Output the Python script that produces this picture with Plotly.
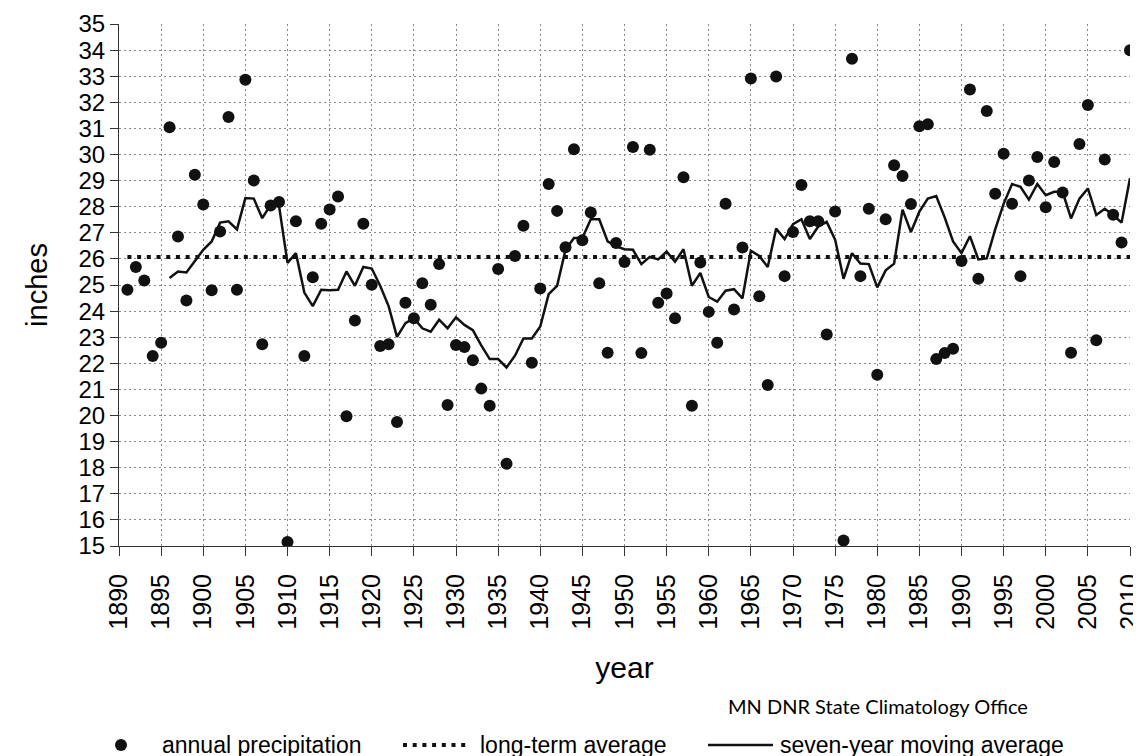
import plotly.graph_objects as go

years = list(range(1891, 2011))
annual_precip = [
    24.82, 25.69, 25.17, 22.28, 22.79, 31.04, 26.86, 24.41, 29.22, 28.08,
    24.80, 27.05, 31.44, 24.82, 32.86, 29.00, 22.73, 28.05, 28.18, 15.15,
    27.44, 22.28, 25.30, 27.35, 27.89, 28.39, 19.97, 23.64, 27.35, 25.01,
    22.66, 22.73, 19.75, 24.32, 23.73, 25.07, 24.24, 25.80, 20.40, 22.70,
    22.62, 22.12, 21.03, 20.37, 25.61, 18.15, 26.11, 27.27, 22.02, 24.87,
    28.87, 27.84, 26.45, 30.20, 26.71, 27.78, 25.07, 22.40, 26.61, 25.88,
    30.29, 22.39, 30.18, 24.32, 24.67, 23.73, 29.13, 20.37, 25.86, 23.97,
    22.79, 28.11, 24.06, 26.44, 32.91, 24.57, 21.17, 32.99, 25.34, 27.03,
    28.83, 27.44, 27.44, 23.10, 27.82, 15.21, 33.67, 25.34, 27.92, 21.56,
    27.52, 29.59, 29.18, 28.10, 31.08, 31.16, 22.16, 22.39, 22.56, 25.92,
    32.49, 25.24, 31.67, 28.50, 30.03, 28.11, 25.34, 29.00, 29.90, 27.98,
    29.71, 28.54, 22.40, 30.40, 31.90, 22.88, 29.81, 27.69, 26.63, 33.99,
]

ma_years = list(range(1896, 2011))
moving_avg = [
    25.27, 25.52, 25.48, 25.93, 26.35, 26.67, 27.39, 27.44, 27.13, 28.33,
    28.31, 27.56, 28.07, 28.02, 25.85, 26.22, 24.71, 24.19, 24.82, 24.80,
    24.82, 25.52, 24.97, 25.69, 25.63, 24.97, 24.19, 23.01, 23.54, 23.73,
    23.34, 23.21, 23.67, 23.34, 23.76, 23.47, 23.27, 22.69, 22.16, 22.16,
    21.84, 22.29, 22.95, 22.95, 23.41, 24.65, 24.97, 26.35, 26.80, 26.80,
    27.52, 27.52, 26.67, 26.48, 26.37, 26.35, 25.80, 26.08, 25.98, 26.28,
    25.89, 26.37, 24.97, 25.46, 24.54, 24.36, 24.78, 24.84, 24.49, 26.31,
    26.11, 25.69, 27.16, 26.76, 27.33, 27.52, 26.76, 27.24, 27.42, 26.74,
    25.24, 26.22, 25.82, 25.80, 24.91, 25.56, 25.82, 27.89, 27.03, 27.81,
    28.31, 28.41, 27.59, 26.67, 26.22, 26.87, 25.98, 26.02, 27.13, 28.11,
    28.87, 28.76, 28.27, 28.87, 28.44, 28.57, 28.57, 27.55, 28.31, 28.70,
    27.68, 27.92, 27.68, 27.39, 29.09,
]

avg_years = [1891, 2010]
long_term_avg = [26.07, 26.07]

x_ticks = list(range(1890, 2011, 5))
y_ticks = list(range(15, 36))

legend_labels = ["annual precipitation", "long-term average", "seven-year moving average"]
source_text = "MN DNR State Climatology Office"

FAM = "Liberation Sans, Arial, sans-serif"

fig = go.Figure()
fig.add_trace(go.Scatter(
    x=avg_years, y=long_term_avg, mode="lines", name=legend_labels[1],
    line=dict(color="#111", width=4, dash="4px,5.7px"), showlegend=False,
))
fig.add_trace(go.Scatter(
    x=ma_years, y=moving_avg, mode="lines", name=legend_labels[2],
    line=dict(color="#111", width=2.5), showlegend=False,
))
fig.add_trace(go.Scatter(
    x=years, y=annual_precip, mode="markers", name=legend_labels[0],
    marker=dict(color="#111", size=12), showlegend=False,
))

fig.update_xaxes(
    range=[1890, 2010], tickvals=x_ticks, ticktext=[str(v) for v in x_ticks],
    tickangle=-90, tickfont=dict(family=FAM, size=25, color="#000"),
    ticks="outside", ticklen=9, tickcolor="#333", ticklabelstandoff=8,
    showgrid=True, gridcolor="#888", gridwidth=1, griddash="2px,3px",
    showline=True, linecolor="#333", linewidth=1, zeroline=False,
    title=dict(text="year", font=dict(family=FAM, size=30, color="#000"), standoff=28),
)
fig.update_yaxes(
    range=[15, 35], tickvals=y_ticks, tickfont=dict(family=FAM, size=24, color="#000"),
    ticks="outside", ticklen=8, tickcolor="#333",
    showgrid=True, gridcolor="#888", gridwidth=1, griddash="2px,3px",
    showline=True, linecolor="#333", linewidth=1, zeroline=False,
    title=dict(text="inches", font=dict(family=FAM, size=29, color="#000"), standoff=22),
)

W, H = 1141, 756
L, R, T, B = 111, 19, 16, 218
pw, ph = W - L - R, H - T - B


def px(xp):
    return (xp - L) / pw


def py(yp):
    return (H - B - yp) / ph


leg_y = py(737)
leg_font = dict(family=FAM, size=23, color="#000")

shapes = [
    dict(type="circle", xref="paper", yref="paper", xsizemode="pixel", ysizemode="pixel",
         xanchor=px(113), yanchor=leg_y, x0=-6, x1=6, y0=-6, y1=6,
         fillcolor="#111", line=dict(width=0)),
    dict(type="line", xref="paper", yref="paper", x0=px(395), x1=px(460), y0=leg_y, y1=leg_y,
         line=dict(color="#111", width=4, dash="4px,5.7px")),
    dict(type="line", xref="paper", yref="paper", x0=px(700), x1=px(765), y0=leg_y, y1=leg_y,
         line=dict(color="#111", width=2.5)),
]
annotations = [
    dict(text=legend_labels[0], x=px(152), y=leg_y, xref="paper", yref="paper",
         xanchor="left", yanchor="middle", showarrow=False, font=leg_font),
    dict(text=legend_labels[1], x=px(470), y=leg_y, xref="paper", yref="paper",
         xanchor="left", yanchor="middle", showarrow=False, font=leg_font),
    dict(text=legend_labels[2], x=px(770), y=leg_y, xref="paper", yref="paper",
         xanchor="left", yanchor="middle", showarrow=False, font=leg_font),
    dict(text=source_text, x=px(718), y=py(698), xref="paper", yref="paper",
         xanchor="left", yanchor="middle", showarrow=False,
         font=dict(family="Lato, Calibri, sans-serif", size=20, color="#000")),
]

fig.update_layout(
    width=W, height=H, margin=dict(l=L, r=R, t=T, b=B, autoexpand=False),
    paper_bgcolor="white", plot_bgcolor="white",
    showlegend=False, shapes=shapes, annotations=annotations,
)

fig.write_html("out.html")
